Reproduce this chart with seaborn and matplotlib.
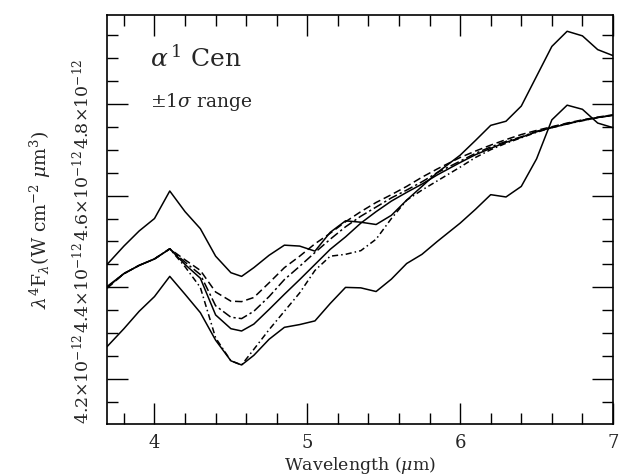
import numpy as np
import pandas as pd
import matplotlib
matplotlib.use("Agg")
import matplotlib.pyplot as plt
import seaborn as sns
from matplotlib.ticker import MultipleLocator, FixedLocator, FixedFormatter

# ---- data (flux in units of 1e-12 W cm^-2 um^3) ----
wl = [3.69, 3.80, 3.90, 4.00, 4.10, 4.20, 4.30, 4.40, 4.50, 4.57, 4.65, 4.75,
      4.85, 4.95, 5.05, 5.15, 5.25, 5.35, 5.45, 5.55, 5.65, 5.75, 5.85, 6.00,
      6.10, 6.20, 6.30, 6.40, 6.50, 6.60, 6.70, 6.80, 6.90, 7.00]

upper = [4.450, 4.490, 4.523, 4.550, 4.610, 4.565, 4.528, 4.468, 4.432, 4.424,
         4.443, 4.470, 4.492, 4.490, 4.479, 4.520, 4.545, 4.542, 4.537, 4.557,
         4.590, 4.620, 4.650, 4.688, 4.720, 4.753, 4.762, 4.795, 4.860, 4.925,
         4.958, 4.948, 4.918, 4.905]

lower = [4.271, 4.310, 4.348, 4.380, 4.424, 4.385, 4.345, 4.285, 4.240, 4.231,
         4.252, 4.287, 4.313, 4.319, 4.327, 4.365, 4.400, 4.399, 4.391, 4.418,
         4.452, 4.472, 4.500, 4.540, 4.570, 4.602, 4.597, 4.620, 4.680, 4.765,
         4.797, 4.788, 4.758, 4.748]

mean_a = [4.398, 4.430, 4.448, 4.462, 4.484, 4.460, 4.437, 4.390, 4.370, 4.369,
          4.378, 4.410, 4.443, 4.468, 4.495, 4.518, 4.543, 4.565, 4.585, 4.602,
          4.620, 4.640, 4.658, 4.683, 4.697, 4.710, 4.722, 4.733, 4.742, 4.750,
          4.758, 4.765, 4.771, 4.776]

mean_b = [4.400, 4.430, 4.448, 4.462, 4.484, 4.455, 4.428, 4.360, 4.335, 4.332,
          4.348, 4.380, 4.417, 4.446, 4.476, 4.505, 4.532, 4.555, 4.575, 4.595,
          4.612, 4.630, 4.650, 4.675, 4.692, 4.706, 4.718, 4.728, 4.740, 4.749,
          4.757, 4.764, 4.770, 4.775]

mean_c = [4.402, 4.430, 4.448, 4.462, 4.484, 4.450, 4.420, 4.340, 4.310, 4.305,
          4.320, 4.352, 4.385, 4.417, 4.450, 4.483, 4.510, 4.540, 4.565, 4.588,
          4.607, 4.625, 4.645, 4.672, 4.689, 4.703, 4.716, 4.727, 4.739, 4.748,
          4.756, 4.764, 4.770, 4.775]

mean_d = [4.400, 4.430, 4.448, 4.462, 4.484, 4.445, 4.400, 4.290, 4.240, 4.231,
          4.265, 4.308, 4.348, 4.388, 4.437, 4.468, 4.472, 4.480, 4.505, 4.550,
          4.590, 4.612, 4.632, 4.662, 4.683, 4.700, 4.714, 4.726, 4.738, 4.748,
          4.756, 4.763, 4.770, 4.775]

series = {"upper": upper, "lower": lower, "a": mean_a, "b": mean_b,
          "c": mean_c, "d": mean_d}

ytick_vals = [4.2, 4.4, 4.6, 4.8]
ytick_labels = [r"%.1f$\times$10$^{-12}$" % v for v in ytick_vals]
xtick_vals = [4, 5, 6, 7]

df = pd.concat([pd.DataFrame({"wl": wl, "flux": v, "series": k})
                for k, v in series.items()], ignore_index=True)

sns.set_theme(style="ticks")
plt.rcParams["font.family"] = ["DejaVu Serif"]
plt.rcParams["mathtext.fontset"] = "dejavuserif"

fig = plt.figure(figsize=(6.3, 4.75), dpi=100)
ax = fig.add_axes([0.170, 0.107, 0.803, 0.861])

dashes = {"upper": "", "lower": "", "a": (5, 2.5), "b": (6, 2, 1.5, 2),
          "c": "", "d": (4, 2, 1, 2)}
sns.lineplot(data=df, x="wl", y="flux", style="series", dashes=dashes,
             color="black", linewidth=1.1, estimator=None, sort=False,
             legend=False, ax=ax)

ax.set_xlim(3.69, 7.0)
ax.set_ylim(4.102, 4.993)

ax.xaxis.set_major_locator(FixedLocator(xtick_vals))
ax.xaxis.set_minor_locator(MultipleLocator(0.2))
ax.yaxis.set_major_locator(FixedLocator(ytick_vals))
ax.yaxis.set_major_formatter(FixedFormatter(ytick_labels))
ax.yaxis.set_minor_locator(MultipleLocator(0.05))

ax.tick_params(which="both", direction="in", top=True, right=True,
               color="black", width=1.0)
ax.tick_params(which="major", length=15)
ax.tick_params(which="minor", length=8)
ax.tick_params(axis="x", which="major", labelsize=13, pad=7)
ax.tick_params(axis="y", which="major", labelsize=12.5, pad=10)
for lab in ax.get_yticklabels():
    lab.set_rotation(90)
    lab.set_va("center")

for sp in ax.spines.values():
    sp.set_color("black")
    sp.set_linewidth(1.2)

ax.set_xlabel(r"Wavelength ($\mu$m)", fontsize=12.5)
ax.xaxis.set_label_coords(0.5, -0.075)
ax.set_ylabel(r"$\lambda^4$F$_\lambda$(W cm$^{-2}$ $\mu$m$^3$)", fontsize=13.5,
              labelpad=14)

ax.text(0.085, 0.895, r"$\alpha^{\,1}$ Cen", transform=ax.transAxes,
        fontsize=18, va="center", ha="left")
ax.text(0.085, 0.787, r"$\pm1\sigma$ range", transform=ax.transAxes,
        fontsize=13.5, va="center", ha="left")

fig.savefig("out.png", dpi=100, facecolor="white")
